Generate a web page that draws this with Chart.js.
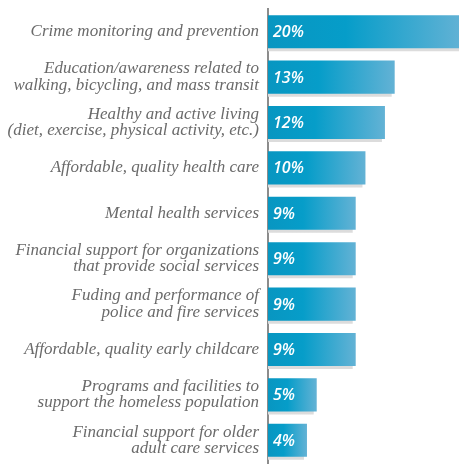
<!DOCTYPE html>
<html>
<head>
<meta charset="utf-8">
<script src="https://cdn.jsdelivr.net/npm/chart.js@4"></script>
<style>
    html, body { margin: 0; padding: 0; background: #fff; }
    #wrap { position: relative; width: 459px; height: 466px; }
</style>
</head>
<body>
<div id="wrap"><canvas id="prioritiesChart"></canvas></div>
<script>
    // categories (multi-line labels) and shares in percent
    var categories = [
        ["Crime monitoring and prevention"],
        ["Education/awareness related to", "walking, bicycling, and mass transit"],
        ["Healthy and active living", "(diet, exercise, physical activity, etc.)"],
        ["Affordable, quality health care"],
        ["Mental health services"],
        ["Financial support for organizations", "that provide social services"],
        ["Fuding and performance of", "police and fire services"],
        ["Affordable, quality early childcare"],
        ["Programs and facilities to", "support the homeless population"],
        ["Financial support for older", "adult care services"]
    ];
    var shares = [20, 13, 12, 10, 9, 9, 9, 9, 5, 4];

    function barGradient(ctx) {
        var chart = ctx.chart;
        if (!chart.chartArea || ctx.type !== "data") return "#0a97c2";
        var xs = chart.scales.x;
        var x0 = xs.getPixelForValue(0), x1 = xs.getPixelForValue(ctx.raw);
        var g = chart.ctx.createLinearGradient(x0, 0, x1, 0);
        g.addColorStop(0, "#0896c1");
        g.addColorStop(0.4, "#069dc9");
        g.addColorStop(1, "#63b2d5");
        return g;
    }

    // drop shadow under bars
    var barShadow = {
        id: "barShadow",
        beforeDatasetsDraw: function(chart) {
            var c = chart.ctx;
            c.save();
            c.shadowColor = "#dcdcdc";
            c.shadowOffsetX = -3;
            c.shadowOffsetY = 3;
            c.shadowBlur = 0;
        },
        afterDatasetsDraw: function(chart) {
            chart.ctx.restore();
        }
    };

    // white value text at the start of each bar
    var valueText = {
        id: "valueText",
        afterDatasetsDraw: function(chart) {
            var c = chart.ctx, meta = chart.getDatasetMeta(0);
            c.save();
            c.fillStyle = "#fff";
            c.font = "italic 600 16px 'Open Sans', sans-serif";
            c.textAlign = "left";
            c.textBaseline = "middle";
            meta.data.forEach(function(bar, i) {
                c.fillText(shares[i] + "%", bar.base + 5, bar.y + 1);
            });
            c.restore();
        }
    };

    new Chart(document.getElementById("prioritiesChart").getContext("2d"), {
        type: "bar",
        data: {
            labels: categories,
            datasets: [{
                data: shares,
                backgroundColor: barGradient,
                borderWidth: 0,
                barPercentage: 0.82,
                categoryPercentage: 0.89
            }]
        },
        options: {
            indexAxis: "y",
            responsive: true,
            maintainAspectRatio: false,
            animation: false,
            layout: { padding: { top: 9, bottom: 3, left: 0, right: 0 } },
            plugins: {
                legend: { display: false },
                tooltip: { enabled: false }
            },
            scales: {
                x: {
                    display: false,
                    min: 0,
                    max: 19.6
                },
                y: {
                    afterFit: function(s) {
                        s.width = 268;
                        s.paddingTop = 0;
                        s.paddingBottom = 0;
                    },
                    grid: { display: false, drawTicks: false },
                    border: { display: true, color: "#8c8c8c", width: 2 },
                    ticks: {
                        padding: 9,
                        color: "#6a6a6a",
                        font: { family: "'Liberation Serif', 'Times New Roman', serif", style: "italic", size: 17, lineHeight: 0.95 }
                    }
                }
            }
        },
        plugins: [barShadow, valueText]
    });
</script>
</body>
</html>
